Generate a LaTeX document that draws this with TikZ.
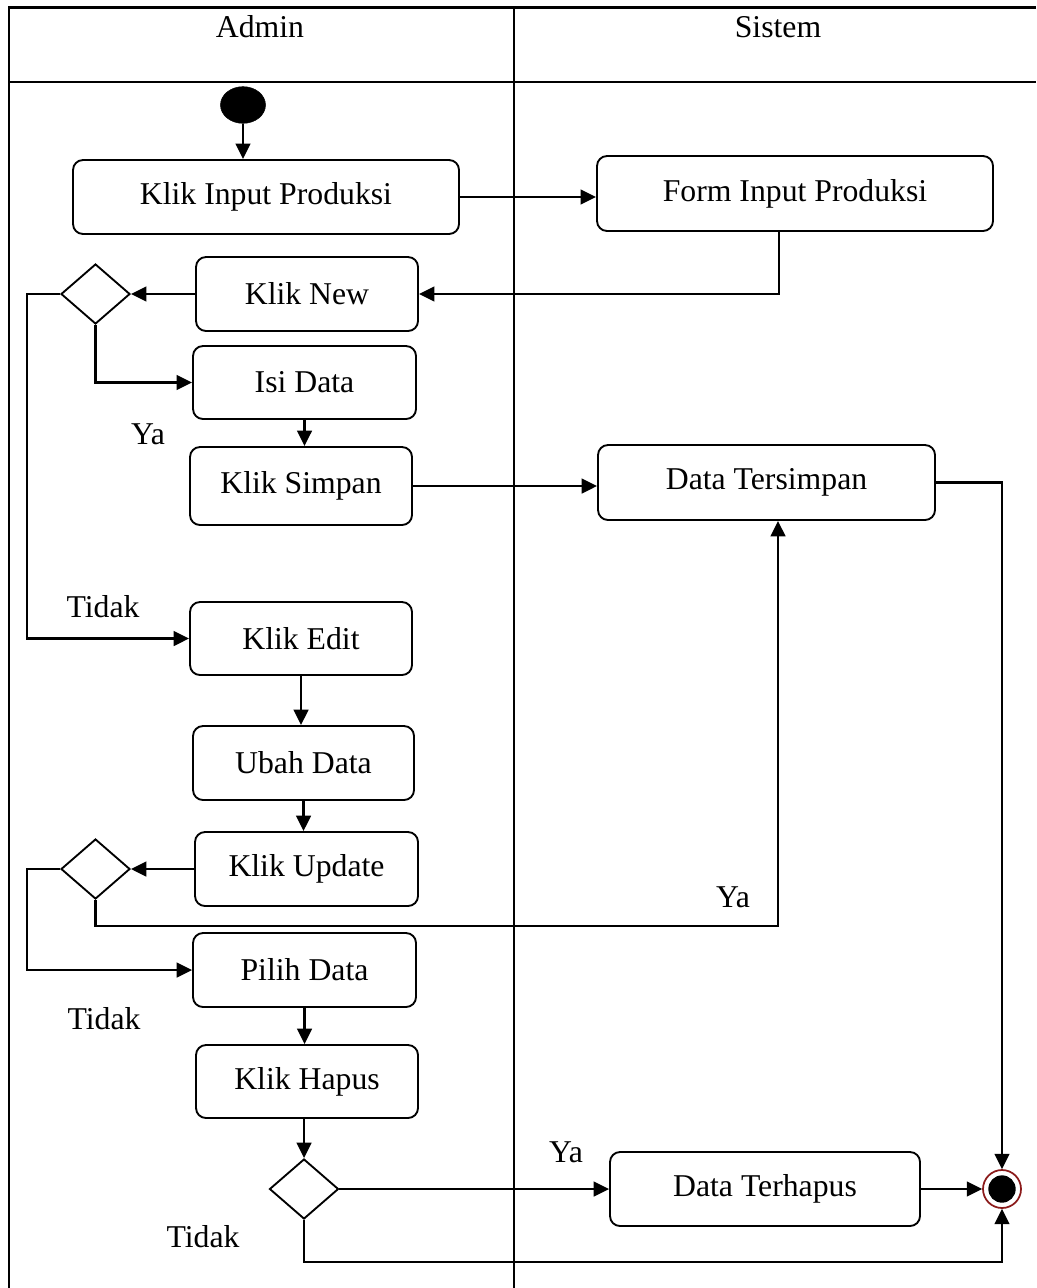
\documentclass[tikz,border=0pt]{standalone}
\usepackage{fontspec}
\setmainfont{Liberation Serif}
\usetikzlibrary{shapes.geometric,arrows.meta}
\definecolor{ringred}{HTML}{8B1A1A}
\tikzset{
  box/.style={draw,line width=1.4pt,rounded corners=7.5pt,align=center,inner sep=0pt},
  dec/.style={draw,diamond,line width=1.4pt,inner sep=0pt,minimum width=51.75pt,minimum height=45pt},
  arr/.style={line width=1.6pt,-{Triangle[length=11.5pt,width=11pt]}},
  frame/.style={line width=1.9pt},
  lbl/.style={inner sep=0pt}
}
\begin{document}
\begin{tikzpicture}[x=0.75pt,y=-0.75pt,font=\fontsize{23.8pt}{28pt}\selectfont]
\useasboundingbox (0,0) rectangle (1036,1288);
% frame
\draw[frame] (9,1288) -- (9,7.5) -- (1036,7.5);
\draw[frame] (9,82) -- (1036,82);
\draw[frame] (514,7.5) -- (514,1288);
\node[lbl] (hadmin) at (260,27) {Admin};
\node[lbl] (hsistem) at (778,27) {Sistem};
% start
\node[draw,fill=black,ellipse,minimum width=33.75pt,minimum height=27.5pt,inner sep=0pt] (start) at (243,105) {};
% boxes
\node[box,minimum width=289.5pt,minimum height=55.5pt] (kip) at (266,197) {Klik Input Produksi};
\node[box,minimum width=297pt,minimum height=56.25pt] (fip) at (795,193.5) {Form Input Produksi};
\node[box,minimum width=166.5pt,minimum height=55.5pt] (new) at (307,294) {Klik New};
\node[box,minimum width=167.25pt,minimum height=54.75pt] (isi) at (304.5,382.5) {Isi Data};
\node[box,minimum width=166.5pt,minimum height=58.5pt] (simpan) at (301,486) {Klik Simpan};
\node[box,minimum width=252.75pt,minimum height=56.25pt] (dts) at (766.5,482.5) {Data Tersimpan};
\node[box,minimum width=166.5pt,minimum height=54.75pt] (edit) at (301,638.5) {Klik Edit};
\node[box,minimum width=165.75pt,minimum height=55.5pt] (ubah) at (303.5,763) {Ubah Data};
\node[box,minimum width=167.25pt,minimum height=55.5pt] (update) at (306.5,869) {Klik Update};
\node[box,minimum width=167.25pt,minimum height=55.5pt] (pilih) at (304.5,970) {Pilih Data};
\node[box,minimum width=166.5pt,minimum height=54.75pt] (hapus) at (307,1081.5) {Klik Hapus};
\node[box,minimum width=232.5pt,minimum height=55.5pt] (dth) at (765,1189) {Data Terhapus};
% decisions
\node[dec] (d1) at (95.5,294) {};
\node[dec] (d2) at (95.5,869) {};
\node[dec] (d3) at (304,1189) {};
% final
\node[circle,draw=ringred,line width=1.3pt,fill=white,minimum size=28.5pt,inner sep=0pt] (fin) at (1002,1189) {};
\node[circle,fill=black,minimum size=20.5pt,inner sep=0pt] (finin) at (fin) {};
% helper coordinates
\coordinate (xL) at (27,0);
\coordinate (x779) at (779,0);
\coordinate (c1) at (778,926);
\coordinate (c2) at (0,1262);
% connectors
\draw[arr] (start.south) -- (start.south |- kip.north);
\draw[arr] (kip.east) -- (kip.east -| fip.west);
\draw[arr] (fip.south -| x779) |- (new.east);
\draw[arr] (new.west) -- (d1.east);
\draw[arr] (d1.south) |- (isi.west);
\draw[arr] (d1.west) -- (d1.west -| xL) |- (edit.west);
\draw[arr] (isi.south) -- (isi.south |- simpan.north);
\draw[arr] (simpan.east) -- (simpan.east -| dts.west);
\draw[arr] (dts.east) -| (fin.north);
\draw[arr] (edit.south) -- (edit.south |- ubah.north);
\draw[arr] (ubah.south) -- (ubah.south |- update.north);
\draw[arr] (update.west) -- (d2.east);
\draw[arr] (d2.south) |- (c1) -- (c1 |- dts.south);
\draw[arr] (d2.west) -- (d2.west -| xL) |- (pilih.west);
\draw[arr] (pilih.south) -- (pilih.south |- hapus.north);
\draw[arr] (hapus.south -| d3.north) -- (d3.north);
\draw[arr] (d3.east) -- (d3.east -| dth.west);
\draw[arr] (dth.east) -- (fin.west);
\draw[arr] (d3.south) |- (c2 -| fin.south) -- (fin.south);
% labels
\node[lbl] (l1) at (148,434) {Ya};
\node[lbl] (l2) at (103,607) {Tidak};
\node[lbl] (l3) at (733,897) {Ya};
\node[lbl] (l4) at (104,1019) {Tidak};
\node[lbl] (l5) at (566,1152) {Ya};
\node[lbl] (l6) at (203,1237) {Tidak};
\end{tikzpicture}
\end{document}
